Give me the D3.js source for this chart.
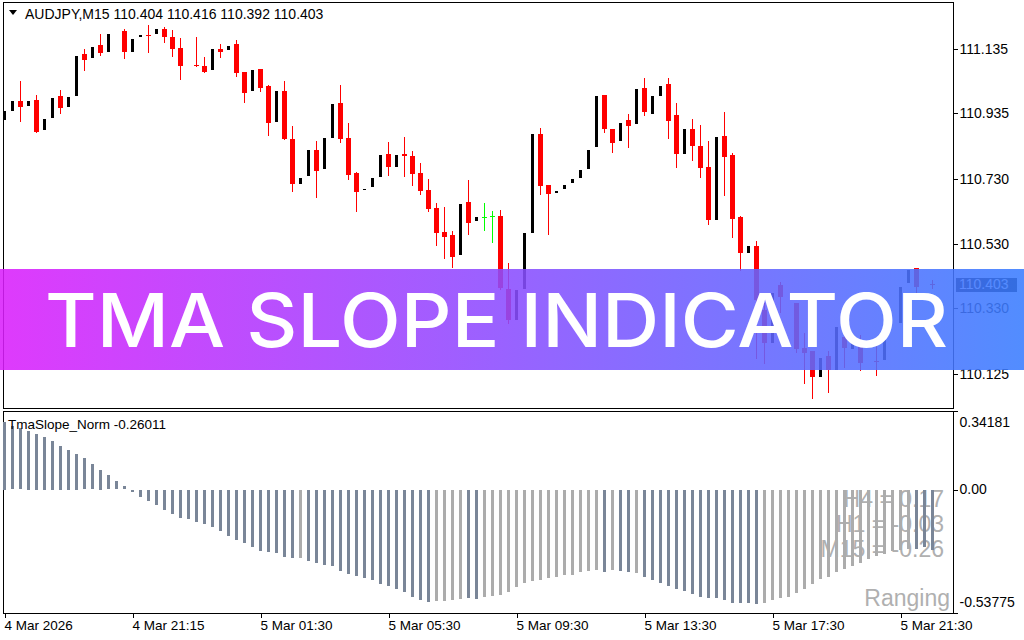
<!DOCTYPE html>
<html><head><meta charset="utf-8">
<script src="https://cdn.jsdelivr.net/npm/d3@7"></script>
<style>html,body{margin:0;padding:0;background:#fff;}svg{display:block;}</style>
</head><body>
<svg id="c" width="1024" height="640"></svg>
<script>
const symbolName = "AUDJPY,M15";
const opens = [110.911,110.940,110.973,110.955,110.976,110.880,110.918,110.989,110.952,110.986,
111.119,111.105,111.147,111.122,111.181,111.191,111.122,111.168,111.177,111.177,
111.197,111.172,111.138,111.082,111.085,111.082,111.066,111.135,111.129,111.150,
111.063,111.002,111.073,111.020,110.906,111.004,110.855,110.713,110.738,110.821,
110.760,110.856,110.967,110.858,110.749,110.694,110.704,110.735,110.809,110.766,
110.809,110.802,110.749,110.697,110.641,110.566,110.557,110.493,110.659,110.596,
110.612,110.615,110.616,110.390,110.291,110.387,110.561,110.871,110.713,110.685,
110.698,110.716,110.732,110.760,110.828,110.992,110.886,110.847,110.914,110.900,
111.014,110.931,110.987,111.026,110.930,110.806,110.886,110.833,110.768,110.601,
110.864,110.805,110.613,110.499,110.523,110.324,110.218,110.402,110.349,110.346,
110.206,110.196,110.113,110.181,110.134,110.240,110.200,110.209,110.162,110.164,
110.165,110.277,110.280,110.405,110.454,110.402,110.404];
const highs = [110.946,110.976,111.035,110.976,110.992,110.921,110.986,111.007,110.989,111.116,
111.134,111.143,111.180,111.184,111.182,111.197,111.169,111.181,111.208,111.200,
111.204,111.194,111.169,111.083,111.173,111.111,111.138,111.150,111.147,111.163,
111.063,111.073,111.073,111.023,111.007,111.035,110.896,110.737,110.824,110.849,
110.861,110.967,111.023,110.905,110.753,110.703,110.737,110.809,110.846,110.809,
110.861,110.818,110.781,110.731,110.656,110.644,110.569,110.656,110.728,110.616,
110.656,110.631,110.635,110.470,110.390,110.567,110.874,110.889,110.713,110.697,
110.716,110.735,110.762,110.824,110.992,110.992,110.886,110.908,110.933,111.014,
111.045,110.992,111.023,111.045,110.967,110.889,110.917,110.899,110.849,110.864,
110.939,110.811,110.616,110.526,110.538,110.346,110.380,110.411,110.350,110.346,
110.252,110.196,110.178,110.196,110.274,110.252,110.234,110.246,110.163,110.215,
110.234,110.278,110.398,110.451,110.454,110.403,110.416];
const lows = [110.911,110.940,110.912,110.955,110.878,110.880,110.918,110.937,110.952,110.986,
111.070,111.105,111.117,111.122,111.181,111.108,111.122,111.168,111.125,111.177,
111.157,111.113,111.042,111.082,111.083,111.064,111.066,111.111,111.129,111.051,
110.971,111.002,111.005,110.868,110.906,110.854,110.695,110.713,110.738,110.676,
110.760,110.856,110.847,110.732,110.632,110.694,110.704,110.735,110.744,110.766,
110.741,110.713,110.685,110.632,110.527,110.486,110.458,110.493,110.561,110.596,
110.573,110.536,110.388,110.284,110.291,110.387,110.561,110.685,110.561,110.685,
110.698,110.716,110.732,110.760,110.828,110.878,110.816,110.847,110.831,110.900,
110.931,110.931,110.987,110.859,110.769,110.806,110.791,110.738,110.592,110.601,
110.682,110.552,110.448,110.499,110.175,110.159,110.218,110.318,110.349,110.193,
110.097,110.050,110.113,110.069,110.134,110.147,110.200,110.137,110.162,110.122,
110.165,110.277,110.280,110.405,110.381,110.402,110.392];
const closes = [110.946,110.976,110.955,110.976,110.878,110.921,110.986,110.952,110.989,111.116,
111.101,111.143,111.123,111.184,111.182,111.125,111.169,111.181,111.175,111.200,
111.173,111.136,111.083,111.083,111.083,111.064,111.138,111.126,111.147,111.059,
110.999,111.073,111.015,110.906,111.007,110.854,110.716,110.737,110.824,110.757,
110.861,110.967,110.856,110.744,110.691,110.703,110.737,110.809,110.769,110.809,
110.803,110.747,110.695,110.637,110.564,110.552,110.489,110.656,110.595,110.616,
110.612,110.615,110.393,110.294,110.390,110.567,110.874,110.710,110.685,110.697,
110.716,110.735,110.762,110.824,110.992,110.887,110.844,110.908,110.896,111.014,
110.940,110.992,111.023,110.912,110.809,110.889,110.834,110.766,110.604,110.864,
110.800,110.607,110.502,110.526,110.355,110.221,110.380,110.364,110.350,110.203,
110.190,110.116,110.178,110.137,110.274,110.206,110.234,110.159,110.163,110.161,
110.234,110.278,110.398,110.451,110.396,110.403,110.403];
const slopeValues = [0.295,0.276,0.266,0.255,0.243,0.230,0.212,0.191,0.172,0.156,
0.137,0.111,0.085,0.063,0.037,0.015,-0.008,-0.031,-0.049,-0.066,
-0.089,-0.105,-0.121,-0.128,-0.141,-0.150,-0.163,-0.179,-0.202,-0.218,
-0.231,-0.249,-0.266,-0.272,-0.276,-0.290,-0.297,-0.297,-0.307,-0.320,
-0.327,-0.332,-0.353,-0.367,-0.375,-0.384,-0.394,-0.410,-0.419,-0.433,
-0.446,-0.467,-0.481,-0.488,-0.485,-0.484,-0.477,-0.474,-0.472,-0.475,
-0.468,-0.462,-0.458,-0.446,-0.424,-0.406,-0.398,-0.394,-0.384,-0.378,
-0.371,-0.368,-0.356,-0.352,-0.350,-0.355,-0.350,-0.352,-0.359,-0.362,
-0.380,-0.390,-0.403,-0.420,-0.429,-0.441,-0.452,-0.464,-0.469,-0.472,
-0.481,-0.491,-0.490,-0.491,-0.496,-0.490,-0.478,-0.472,-0.464,-0.449,
-0.430,-0.409,-0.388,-0.377,-0.356,-0.343,-0.330,-0.317,-0.300,-0.288,
-0.278,-0.266,-0.263,-0.256,-0.255,-0.249,-0.26011];
// 1 = trending bar, 0 = flat bar
const slopeState = [1,1,1,1,1,1,1,1,1,1, 1,1,1,1,1,1,1,1,1,1, 1,1,1,1,1,1,1,1,1,1,
1,1,1,1,1,1,1,0,1,1, 1,1,1,1,1,1,1,1,1,1, 1,1,1,1,0,0,0,0,1,1,
0,0,0,0,0,0,0,0,0,0, 0,0,0,0,0,1,0,1,1,0, 1,1,1,1,1,1,1,1,1,1,
1,1,1,1,1,0,0,0,0,0, 0,0,0,0,0,0,0,0,0,0, 0,0,0,0,1,1,1];
const priceTicks = [111.135,110.935,110.730,110.530,110.330,110.125];
const slopeTicks = [0.34181,0.00,-0.53775];
const slopeTickLabels = ["0.34181","0.00","-0.53775"];
const timeLabels = ["4 Mar 2026","4 Mar 21:15","5 Mar 01:30","5 Mar 05:30","5 Mar 09:30","5 Mar 13:30","5 Mar 17:30","5 Mar 21:30"];
const timeLabelBars = [0,16,32,48,64,80,96,112];
const tfNames = ["H4","H1","M15"];
const tfValues = [0.17,-0.03,-0.26];
const marketState = "Ranging";
const indicatorName = "TmaSlope_Norm";
const bannerTitle = "TMA SLOPE INDICATOR";

const N = opens.length;
const svg = d3.select("#c");
const FONT = "'Liberation Sans', Arial, sans-serif";
const loc = d3.formatLocale({decimal:".", thousands:",", grouping:[3], currency:["",""], minus:"-"});
const f3 = loc.format(".3f"), f2 = loc.format(".2f"), f5 = loc.format(".5f");
svg.append("rect").attr("width",1024).attr("height",640).attr("fill","#fff");

const xb = d3.scaleBand().domain(d3.range(N)).range([0, 8*N]);
const col = i => xb(i) + 4;
const yP = d3.scaleLinear().domain([110.0162, 111.2777]).range([409, 3]);
const yS = d3.scaleLinear().domain([-0.53775, 0.34181]).range([613, 411]);
const xT = d3.scaleLinear().domain([0, N-1]).range([4.5, 4.5 + 8*(N-1)]);

const defs = svg.append("defs");
defs.append("clipPath").attr("id","clipMain").append("rect").attr("x",3).attr("y",3).attr("width",950).attr("height",406);
defs.append("clipPath").attr("id","clipSub").append("rect").attr("x",3).attr("y",412).attr("width",950).attr("height",201);

// ---- candles
const candles = d3.range(N).map(i => ({i, o:opens[i], h:highs[i], l:lows[i], c:closes[i]}));
const gC = svg.append("g").attr("clip-path","url(#clipMain)").attr("shape-rendering","crispEdges");
const R = v => Math.round(v);
gC.selectAll("rect.wick").data(candles.filter(d => d.c <= d.o)).join("rect").attr("class","wick")
  .attr("x", d => col(d.i)).attr("width",1)
  .attr("y", d => R(yP(d.h))).attr("height", d => Math.max(1, R(yP(d.l)) - R(yP(d.h)) + 1))
  .attr("fill", d => d.c === d.o ? "#00ff00" : "#ff0000");
gC.selectAll("rect.bear").data(candles.filter(d => d.c <= d.o)).join("rect").attr("class","bear")
  .attr("x", d => col(d.i) - 2).attr("width",5)
  .attr("y", d => R(yP(d.o))).attr("height", d => Math.max(1, R(yP(d.c)) - R(yP(d.o))))
  .attr("fill", d => d.c === d.o ? "#00ff00" : "#ff0000");
gC.selectAll("rect.bull").data(candles.filter(d => d.c > d.o && (R(yP(d.o)) - R(yP(d.c)) - 2) >= 1)).join("rect").attr("class","bull")
  .attr("x", d => col(d.i) - 1).attr("width",3)
  .attr("y", d => R(yP(d.c)) + 1).attr("height", d => R(yP(d.o)) - R(yP(d.c)) - 2)
  .attr("fill","#000");

// ---- frames
const gF = svg.append("g").attr("shape-rendering","crispEdges").attr("stroke","#000").attr("fill","none");
gF.append("rect").attr("x",3.5).attr("y",2.5).attr("width",950).attr("height",406);
gF.append("rect").attr("x",3.5).attr("y",411.5).attr("width",950).attr("height",202);

// ---- price axis
const axP = svg.append("g").attr("transform","translate(953.5,0)")
  .call(d3.axisRight(yP).tickValues(priceTicks).tickFormat(f3).tickSize(4).tickSizeOuter(0));
axP.select(".domain").remove();
axP.selectAll("line").attr("shape-rendering","crispEdges");
axP.selectAll("text").attr("x",6).style("font-family",FONT).style("font-size","14px").attr("fill","#000");

const lastClose = closes[N-1];
svg.append("rect").attr("x",956).attr("y",R(yP(lastClose))-7).attr("width",61).attr("height",14).attr("fill","#000");
svg.append("text").attr("x",959).attr("y",yP(lastClose)).attr("dy","0.35em").style("font-family",FONT).style("font-size","14px")
  .attr("fill","#fff").text(f3(lastClose));

// header
svg.append("path").attr("d","M9,10 L17,10 L13,15 Z").attr("fill","#000");
svg.append("text").attr("x",25).attr("y",19).style("font-family",FONT).style("font-size","14px").attr("fill","#000")
  .text(`${symbolName} ${f3(opens[N-1])} ${f3(highs[N-1])} ${f3(lows[N-1])} ${f3(closes[N-1])}`);

// ---- sub window
const gS = svg.append("g").attr("clip-path","url(#clipSub)");
const tfY = [507, 532, 557];
gS.selectAll("text.tf").data(tfNames).join("text").attr("class","tf")
  .attr("x",944).attr("y",(d,i)=>tfY[i]).attr("text-anchor","end")
  .style("font-family",FONT).style("font-size","23px").attr("fill","#b0b0b0")
  .text((d,i)=> `${d} = ${f2(tfValues[i])}`);
gS.append("text").attr("x",950).attr("y",606).attr("text-anchor","end")
  .style("font-family",FONT).style("font-size","23px").attr("fill","#b0b0b0").text(marketState);

gS.append("g").attr("shape-rendering","crispEdges").selectAll("rect").data(slopeValues).join("rect")
  .attr("x",(d,i)=> xb(i)+3).attr("width",3)
  .attr("y", d => R(Math.min(yS(d), yS(0))))
  .attr("height", d => Math.max(1, R(Math.abs(yS(d) - yS(0)))))
  .attr("fill", (d,i) => slopeState[i] ? "#7a8698" : "#acacac");

svg.append("text").attr("x",8).attr("y",429).style("font-family",FONT).style("font-size","13.5px").attr("fill","#000")
  .text(`${indicatorName} ${f5(slopeValues[N-1])}`);

const axS = svg.append("g").attr("transform","translate(953.5,0)")
  .call(d3.axisRight(yS).tickValues(slopeTicks).tickFormat((d,i)=>slopeTickLabels[i]).tickSize(4).tickSizeOuter(0));
axS.select(".domain").remove();
axS.selectAll("line").attr("shape-rendering","crispEdges");
axS.selectAll("text").attr("x",6).style("font-family",FONT).style("font-size","14px").attr("fill","#000")
  .attr("dy",(d,i)=> i===0 ? "1.1em" : (i===2 ? "-0.45em" : "0.32em"));

// ---- time axis
const axT = svg.append("g").attr("transform","translate(0,613.5)")
  .call(d3.axisBottom(xT).tickValues(timeLabelBars).tickFormat((d,i)=>timeLabels[i]).tickSize(4).tickSizeOuter(0));
axT.select(".domain").remove();
axT.selectAll("line").attr("shape-rendering","crispEdges");
axT.selectAll("text").attr("text-anchor","start").attr("x",-0.5).attr("y",7).attr("dy","0.71em")
  .style("font-family",FONT).style("font-size","13.5px").attr("fill","#000");

// ---- banner
const grad = defs.append("linearGradient").attr("id","bg").attr("x1","0").attr("x2","1").attr("y1","0").attr("y2","0");
grad.append("stop").attr("offset","0").attr("stop-color","#da1ffc");
grad.append("stop").attr("offset","0.5").attr("stop-color","#8a4dff");
grad.append("stop").attr("offset","1").attr("stop-color","#3a7dff");
svg.append("rect").attr("x",0).attr("y",269).attr("width",1024).attr("height",101).attr("fill","url(#bg)").attr("fill-opacity",0.88);
svg.append("text").attr("x",45).attr("y",347).attr("textLength",903).attr("lengthAdjust","spacingAndGlyphs")
  .style("font-family","Inter, 'Open Sans', sans-serif").style("font-weight",500).style("font-size","74px")
  .attr("fill","#fff").text(bannerTitle);
</script>
</body></html>
